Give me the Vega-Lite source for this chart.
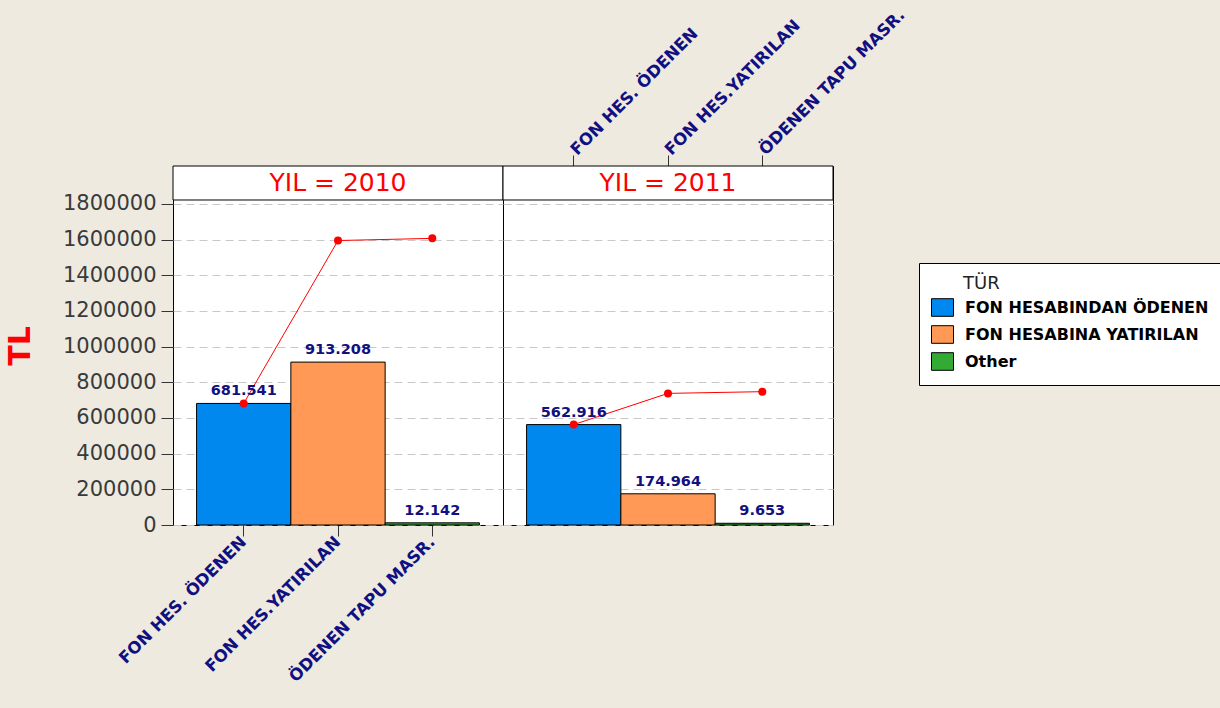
{
  "$schema": "https://vega.github.io/schema/vega-lite/v6.json",
  "background": "#EEEAE0",
  "padding": {"left": 4, "top": 5, "right": 30, "bottom": 60},
  "datasets": {
    "tl": [
      {"YIL": 2010, "KATEGORI": "FON HES. ÖDENEN", "TUR": "FON HESABINDAN ÖDENEN", "TL": 681541, "KUMULATIF": 681541},
      {"YIL": 2010, "KATEGORI": "FON HES.YATIRILAN", "TUR": "FON HESABINA YATIRILAN", "TL": 913208, "KUMULATIF": 1594749},
      {"YIL": 2010, "KATEGORI": "ÖDENEN TAPU MASR.", "TUR": "Other", "TL": 12142, "KUMULATIF": 1606891},
      {"YIL": 2011, "KATEGORI": "FON HES. ÖDENEN", "TUR": "FON HESABINDAN ÖDENEN", "TL": 562916, "KUMULATIF": 562916},
      {"YIL": 2011, "KATEGORI": "FON HES.YATIRILAN", "TUR": "FON HESABINA YATIRILAN", "TL": 174964, "KUMULATIF": 737880},
      {"YIL": 2011, "KATEGORI": "ÖDENEN TAPU MASR.", "TUR": "Other", "TL": 9653, "KUMULATIF": 747533}
    ],
    "baslik": [
      {"YIL": 2010, "BASLIK": "YIL = 2010"},
      {"YIL": 2011, "BASLIK": "YIL = 2011"}
    ]
  },
  "hconcat": [
    {
      "width": 330,
      "height": 359,
      "layer": [
        {
          "data": {"name": "tl"},
          "transform": [{"filter": "datum.YIL == 2010"}],
          "mark": {"type": "bar", "stroke": "black", "strokeWidth": 1, "opacity": 1},
          "encoding": {
            "x": {"field": "KATEGORI", "type": "nominal", "sort": null,
                  "scale": {"paddingInner": 0, "paddingOuter": 0.25},
                  "axis": {"orient": "bottom", "title": null, "labelAngle": -45, "labelAlign": "right", "labelBaseline": "middle",
                           "labelFont": "DejaVu Sans", "labelFontWeight": "bold", "labelFontSize": 16.5, "labelColor": "#101080", "labelLimit": 400,
                           "tickSize": 11, "tickColor": "#333333", "labelPadding": 3, "domain": false, "labelOverlap": false}},
            "y": {"field": "TL", "type": "quantitative",
                  "scale": {"domain": [0, 2012600], "nice": false, "zero": true},
                  "axis": {"title": "TL", "titleColor": "#ff0000", "titleFont": "DejaVu Sans", "titleFontWeight": "bold", "titleFontSize": 30, "titlePadding": 27,
                           "values": [0, 200000, 400000, 600000, 800000, 1000000, 1200000, 1400000, 1600000, 1800000], "tickCount": 20,
                           "format": "d", "labelFont": "DejaVu Sans", "labelFontSize": 21, "labelColor": "#3a3a3a", "labelOverlap": false,
                           "tickSize": 12, "tickColor": "#333333", "labelPadding": 5, "domain": false,
                           "grid": true, "gridColor": "#c8c8c8", "gridDash": [8, 5], "gridWidth": 1}},
            "color": {"field": "TUR", "type": "nominal",
                      "scale": {"domain": ["FON HESABINDAN ÖDENEN", "FON HESABINA YATIRILAN", "Other"], "range": ["#0088EE", "#FF9955", "#33AA33"]},
                      "legend": {"orient": "none", "legendX": 746, "legendY": 97,
                                 "title": "\u2800\u2800\u00a0TÜR", "titleFont": "DejaVu Sans", "titleFontWeight": "normal", "titleFontSize": 18, "titleColor": "#222222", "titlePadding": 3,
                                 "labelFont": "DejaVu Sans", "labelFontWeight": "bold", "labelFontSize": 16, "labelColor": "#000000", "labelOffset": 11, "labelLimit": 400,
                                 "symbolType": "M-1,-0.8H1V0.8H-1Z", "symbolSize": 484, "symbolStrokeColor": "black", "symbolStrokeWidth": 1, "symbolOpacity": 1,
                                 "rowPadding": 4, "padding": 12, "fillColor": "white", "strokeColor": "black"}}
          }
        },
        {
          "data": {"name": "tl"},
          "transform": [{"filter": "datum.YIL == 2010"}],
          "mark": {"type": "line", "color": "#ff0000", "strokeWidth": 1, "point": {"filled": true, "size": 64, "color": "#ff0000"}},
          "encoding": {
            "x": {"field": "KATEGORI", "type": "nominal", "sort": null},
            "y": {"field": "KUMULATIF", "type": "quantitative", "title": "TL"}
          }
        },
        {
          "data": {"name": "tl"},
          "transform": [{"filter": "datum.YIL == 2010"}],
          "mark": {"type": "text", "font": "DejaVu Sans", "fontWeight": "bold", "fontSize": 14.5, "color": "#101080", "baseline": "alphabetic", "dy": -8},
          "encoding": {
            "x": {"field": "KATEGORI", "type": "nominal", "sort": null},
            "y": {"field": "TL", "type": "quantitative", "title": "TL"},
            "text": {"field": "TL", "type": "quantitative", "format": ",d"}
          }
        },
        {
          "data": {"name": "baslik"},
          "transform": [{"filter": "datum.YIL == 2010"}],
          "mark": {"type": "rect", "fill": "white", "stroke": "black", "strokeWidth": 1},
          "encoding": {
            "y": {"datum": 1822000, "type": "quantitative"},
            "y2": {"datum": 2012600}
          }
        },
        {
          "data": {"name": "baslik"},
          "transform": [{"filter": "datum.YIL == 2010"}],
          "mark": {"type": "text", "font": "DejaVu Sans", "fontSize": 25, "color": "#ff0000", "baseline": "middle"},
          "encoding": {
            "y": {"datum": 1917300, "type": "quantitative"},
            "text": {"field": "BASLIK"}
          }
        }
      ]
    },
    {
      "width": 330,
      "height": 359,
      "layer": [
        {
          "data": {"name": "tl"},
          "transform": [{"filter": "datum.YIL == 2011"}],
          "mark": {"type": "bar", "stroke": "black", "strokeWidth": 1, "opacity": 1},
          "encoding": {
            "x": {"field": "KATEGORI", "type": "nominal", "sort": null,
                  "scale": {"paddingInner": 0, "paddingOuter": 0.25},
                  "axis": {"orient": "top", "title": null, "labelAngle": -45, "labelAlign": "left", "labelBaseline": "middle",
                           "labelFont": "DejaVu Sans", "labelFontWeight": "bold", "labelFontSize": 16.5, "labelColor": "#101080", "labelLimit": 400,
                           "tickSize": 11, "tickColor": "#333333", "labelPadding": 3, "domain": false, "labelOverlap": false}},
            "y": {"field": "TL", "type": "quantitative",
                  "scale": {"domain": [0, 2012600], "nice": false, "zero": true},
                  "axis": {"title": null, "labels": false, "ticks": false, "domain": false,
                           "values": [0, 200000, 400000, 600000, 800000, 1000000, 1200000, 1400000, 1600000, 1800000], "tickCount": 20,
                           "grid": true, "gridColor": "#c8c8c8", "gridDash": [8, 5], "gridWidth": 1}},
            "color": {"field": "TUR", "type": "nominal"}
          }
        },
        {
          "data": {"name": "tl"},
          "transform": [{"filter": "datum.YIL == 2011"}],
          "mark": {"type": "line", "color": "#ff0000", "strokeWidth": 1, "point": {"filled": true, "size": 64, "color": "#ff0000"}},
          "encoding": {
            "x": {"field": "KATEGORI", "type": "nominal", "sort": null},
            "y": {"field": "KUMULATIF", "type": "quantitative", "title": null}
          }
        },
        {
          "data": {"name": "tl"},
          "transform": [{"filter": "datum.YIL == 2011"}],
          "mark": {"type": "text", "font": "DejaVu Sans", "fontWeight": "bold", "fontSize": 14.5, "color": "#101080", "baseline": "alphabetic", "dy": -8},
          "encoding": {
            "x": {"field": "KATEGORI", "type": "nominal", "sort": null},
            "y": {"field": "TL", "type": "quantitative", "title": null},
            "text": {"field": "TL", "type": "quantitative", "format": ",d"}
          }
        },
        {
          "data": {"name": "baslik"},
          "transform": [{"filter": "datum.YIL == 2011"}],
          "mark": {"type": "rect", "fill": "white", "stroke": "black", "strokeWidth": 1},
          "encoding": {
            "y": {"datum": 1822000, "type": "quantitative"},
            "y2": {"datum": 2012600}
          }
        },
        {
          "data": {"name": "baslik"},
          "transform": [{"filter": "datum.YIL == 2011"}],
          "mark": {"type": "text", "font": "DejaVu Sans", "fontSize": 25, "color": "#ff0000", "baseline": "middle"},
          "encoding": {
            "y": {"datum": 1917300, "type": "quantitative"},
            "text": {"field": "BASLIK"}
          }
        }
      ]
    }
  ],
  "spacing": 0,
  "bounds": "flush",
  "config": {
    "font": "DejaVu Sans",
    "view": {"stroke": "black", "strokeWidth": 1, "fill": "white"},
    "locale": {"number": {"decimal": ",", "thousands": ".", "grouping": [3], "currency": ["", " TL"]}}
  }
}
